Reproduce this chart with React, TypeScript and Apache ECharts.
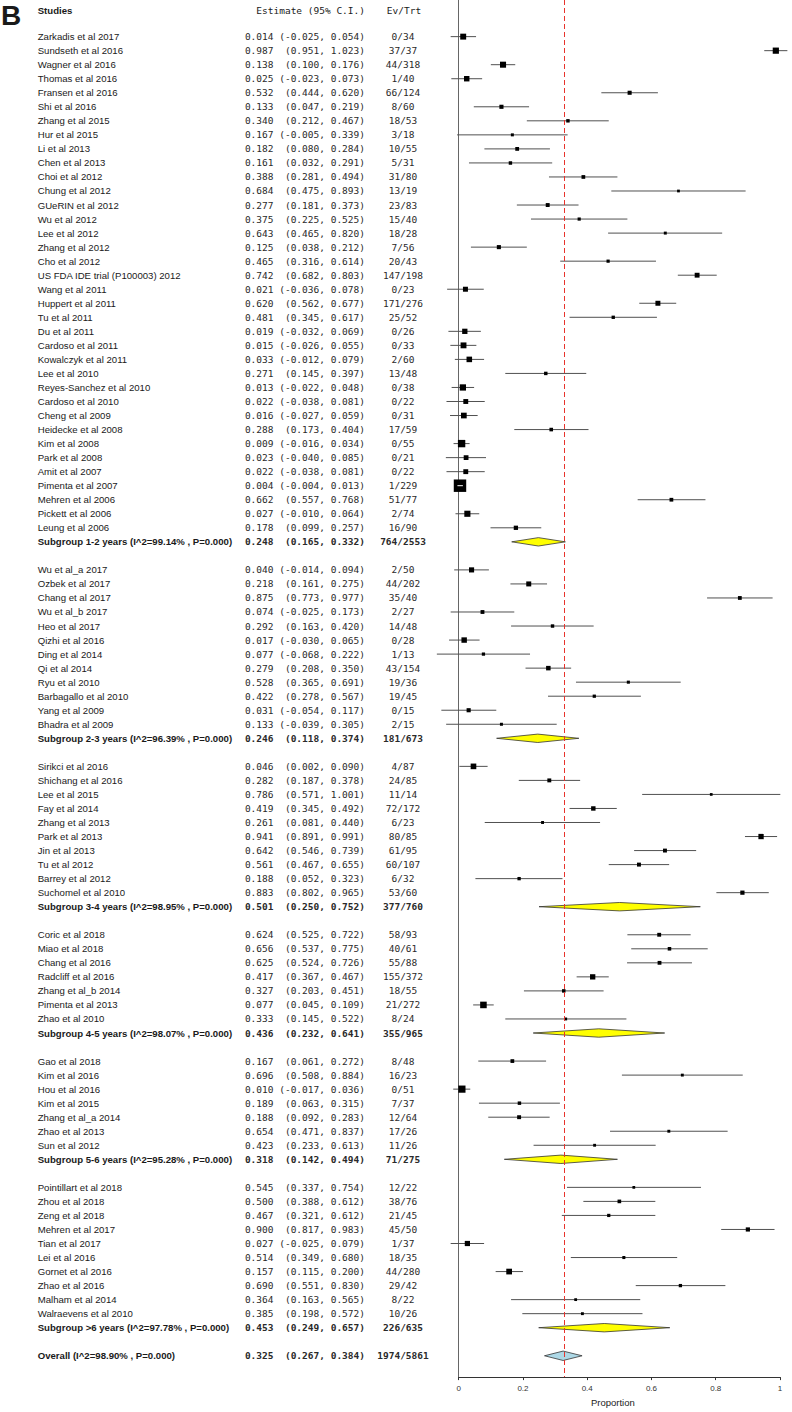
import React, { useEffect, useRef } from "react";
import * as echarts from "echarts";

type Study = [string, number, number, number, string];

// [name, estimate, lower, upper, events/total]
const group1: Study[] = [
  ["Zarkadis et al 2017", 0.014, -0.025, 0.054, "0/34"],
  ["Sundseth et al 2016", 0.987, 0.951, 1.023, "37/37"],
  ["Wagner et al 2016", 0.138, 0.1, 0.176, "44/318"],
  ["Thomas et al 2016", 0.025, -0.023, 0.073, "1/40"],
  ["Fransen et al 2016", 0.532, 0.444, 0.62, "66/124"],
  ["Shi et al 2016", 0.133, 0.047, 0.219, "8/60"],
  ["Zhang et al 2015", 0.34, 0.212, 0.467, "18/53"],
  ["Hur et al 2015", 0.167, -0.005, 0.339, "3/18"],
  ["Li et al 2013", 0.182, 0.08, 0.284, "10/55"],
  ["Chen et al 2013", 0.161, 0.032, 0.291, "5/31"],
  ["Choi et al 2012", 0.388, 0.281, 0.494, "31/80"],
  ["Chung et al 2012", 0.684, 0.475, 0.893, "13/19"],
  ["GUeRIN et al 2012", 0.277, 0.181, 0.373, "23/83"],
  ["Wu et al 2012", 0.375, 0.225, 0.525, "15/40"],
  ["Lee et al 2012", 0.643, 0.465, 0.82, "18/28"],
  ["Zhang et al 2012", 0.125, 0.038, 0.212, "7/56"],
  ["Cho et al 2012", 0.465, 0.316, 0.614, "20/43"],
  ["US FDA IDE trial (P100003) 2012", 0.742, 0.682, 0.803, "147/198"],
  ["Wang et al 2011", 0.021, -0.036, 0.078, "0/23"],
  ["Huppert et al 2011", 0.62, 0.562, 0.677, "171/276"],
  ["Tu et al 2011", 0.481, 0.345, 0.617, "25/52"],
  ["Du et al 2011", 0.019, -0.032, 0.069, "0/26"],
  ["Cardoso et al 2011", 0.015, -0.026, 0.055, "0/33"],
  ["Kowalczyk et al 2011", 0.033, -0.012, 0.079, "2/60"],
  ["Lee et al 2010", 0.271, 0.145, 0.397, "13/48"],
  ["Reyes-Sanchez et al 2010", 0.013, -0.022, 0.048, "0/38"],
  ["Cardoso et al 2010", 0.022, -0.038, 0.081, "0/22"],
  ["Cheng et al 2009", 0.016, -0.027, 0.059, "0/31"],
  ["Heidecke et al 2008", 0.288, 0.173, 0.404, "17/59"],
  ["Kim et al 2008", 0.009, -0.016, 0.034, "0/55"],
  ["Park et al 2008", 0.023, -0.04, 0.085, "0/21"],
  ["Amit et al 2007", 0.022, -0.038, 0.081, "0/22"],
  ["Pimenta et al 2007", 0.004, -0.004, 0.013, "1/229"],
  ["Mehren et al 2006", 0.662, 0.557, 0.768, "51/77"],
  ["Pickett et al 2006", 0.027, -0.01, 0.064, "2/74"],
  ["Leung et al 2006", 0.178, 0.099, 0.257, "16/90"],
];

const group2: Study[] = [
  ["Wu et al_a 2017", 0.04, -0.014, 0.094, "2/50"],
  ["Ozbek et al 2017", 0.218, 0.161, 0.275, "44/202"],
  ["Chang et al 2017", 0.875, 0.773, 0.977, "35/40"],
  ["Wu et al_b 2017", 0.074, -0.025, 0.173, "2/27"],
  ["Heo et al 2017", 0.292, 0.163, 0.42, "14/48"],
  ["Qizhi et al 2016", 0.017, -0.03, 0.065, "0/28"],
  ["Ding et al 2014", 0.077, -0.068, 0.222, "1/13"],
  ["Qi et al 2014", 0.279, 0.208, 0.35, "43/154"],
  ["Ryu et al 2010", 0.528, 0.365, 0.691, "19/36"],
  ["Barbagallo et al 2010", 0.422, 0.278, 0.567, "19/45"],
  ["Yang et al 2009", 0.031, -0.054, 0.117, "0/15"],
  ["Bhadra et al 2009", 0.133, -0.039, 0.305, "2/15"],
];

const group3: Study[] = [
  ["Sirikci et al 2016", 0.046, 0.002, 0.09, "4/87"],
  ["Shichang et al 2016", 0.282, 0.187, 0.378, "24/85"],
  ["Lee et al 2015", 0.786, 0.571, 1.001, "11/14"],
  ["Fay et al 2014", 0.419, 0.345, 0.492, "72/172"],
  ["Zhang et al 2013", 0.261, 0.081, 0.44, "6/23"],
  ["Park et al 2013", 0.941, 0.891, 0.991, "80/85"],
  ["Jin et al 2013", 0.642, 0.546, 0.739, "61/95"],
  ["Tu et al 2012", 0.561, 0.467, 0.655, "60/107"],
  ["Barrey et al 2012", 0.188, 0.052, 0.323, "6/32"],
  ["Suchomel et al 2010", 0.883, 0.802, 0.965, "53/60"],
];

const group4: Study[] = [
  ["Coric et al 2018", 0.624, 0.525, 0.722, "58/93"],
  ["Miao et al 2018", 0.656, 0.537, 0.775, "40/61"],
  ["Chang et al 2016", 0.625, 0.524, 0.726, "55/88"],
  ["Radcliff et al 2016", 0.417, 0.367, 0.467, "155/372"],
  ["Zhang et al_b 2014", 0.327, 0.203, 0.451, "18/55"],
  ["Pimenta et al 2013", 0.077, 0.045, 0.109, "21/272"],
  ["Zhao et al 2010", 0.333, 0.145, 0.522, "8/24"],
];

const group5: Study[] = [
  ["Gao et al 2018", 0.167, 0.061, 0.272, "8/48"],
  ["Kim et al 2016", 0.696, 0.508, 0.884, "16/23"],
  ["Hou et al 2016", 0.01, -0.017, 0.036, "0/51"],
  ["Kim et al 2015", 0.189, 0.063, 0.315, "7/37"],
  ["Zhang et al_a 2014", 0.188, 0.092, 0.283, "12/64"],
  ["Zhao et al 2013", 0.654, 0.471, 0.837, "17/26"],
  ["Sun et al 2012", 0.423, 0.233, 0.613, "11/26"],
];

const group6: Study[] = [
  ["Pointillart et al 2018", 0.545, 0.337, 0.754, "12/22"],
  ["Zhou et al 2018", 0.5, 0.388, 0.612, "38/76"],
  ["Zeng et al 2018", 0.467, 0.321, 0.612, "21/45"],
  ["Mehren et al 2017", 0.9, 0.817, 0.983, "45/50"],
  ["Tian et al 2017", 0.027, -0.025, 0.079, "1/37"],
  ["Lei et al 2016", 0.514, 0.349, 0.68, "18/35"],
  ["Gornet et al 2016", 0.157, 0.115, 0.2, "44/280"],
  ["Zhao et al 2016", 0.69, 0.551, 0.83, "29/42"],
  ["Malham et al 2014", 0.364, 0.163, 0.565, "8/22"],
  ["Walraevens et al 2010", 0.385, 0.198, 0.572, "10/26"],
];

const subgroupLabels = [
  "Subgroup 1-2 years (I^2=99.14% , P=0.000)",
  "Subgroup 2-3 years (I^2=96.39% , P=0.000)",
  "Subgroup 3-4 years (I^2=98.95% , P=0.000)",
  "Subgroup 4-5 years (I^2=98.07% , P=0.000)",
  "Subgroup 5-6 years (I^2=95.28% , P=0.000)",
  "Subgroup >6 years (I^2=97.78% , P=0.000)",
];
const subgroupEst = [0.248, 0.246, 0.501, 0.436, 0.318, 0.453];
const subgroupLo = [0.165, 0.118, 0.25, 0.232, 0.142, 0.249];
const subgroupHi = [0.332, 0.374, 0.752, 0.641, 0.494, 0.657];
const subgroupEvTrt = ["764/2553", "181/673", "377/760", "355/965", "71/275", "226/635"];

const overallLabel = "Overall (I^2=98.90% , P=0.000)";
const overallEst = 0.325;
const overallLo = 0.267;
const overallHi = 0.384;
const overallEvTrt = "1974/5861";

const xTicks = [0, 0.2, 0.4, 0.6, 0.8, 1];

type Row = {
  row: number;
  kind: "study" | "sub" | "overall";
  name: string;
  est: number;
  lo: number;
  hi: number;
  ev: string;
};

function buildRows(): Row[] {
  const groups = [group1, group2, group3, group4, group5, group6];
  const rows: Row[] = [];
  let r = 0;
  groups.forEach((g, gi) => {
    g.forEach((s) => {
      rows.push({ row: r++, kind: "study", name: s[0], est: s[1], lo: s[2], hi: s[3], ev: s[4] });
    });
    rows.push({
      row: r++,
      kind: "sub",
      name: subgroupLabels[gi],
      est: subgroupEst[gi],
      lo: subgroupLo[gi],
      hi: subgroupHi[gi],
      ev: subgroupEvTrt[gi],
    });
    r++; // blank row
  });
  rows.push({ row: r, kind: "overall", name: overallLabel, est: overallEst, lo: overallLo, hi: overallHi, ev: overallEvTrt });
  return rows;
}

const fmt = (v: number) => v.toFixed(3);
const ciText = (e: number, l: number, h: number) =>
  fmt(e) + (l < 0 ? " " : "  ") + "(" + fmt(l) + ", " + fmt(h) + ")";

const SANS = '"Liberation Sans", Arial, sans-serif';
const MONO = '"DejaVu Sans Mono", "Liberation Mono", monospace';
const FS = 9.6;
const FSM = 9.5;

export default function App() {
  const ref = useRef<HTMLDivElement>(null);
  useEffect(() => {
    if (!ref.current) return;
    const chart = echarts.init(ref.current, undefined, { renderer: "svg" });
    const rows = buildRows();
    const nameX = 37.7;
    const estRightX = 365;
    const evCenterX = 403;

    const textEl = (x: number, y: number, text: string, family: string, size: number, bold: boolean, align: string, color: string) => ({
      type: "text",
      x,
      y,
      silent: true,
      style: {
        text,
        fill: color,
        fontSize: size,
        fontFamily: family,
        fontWeight: bold ? "bold" : "normal",
        align,
        textAlign: align,
        verticalAlign: "middle",
        textVerticalAlign: "middle",
      },
    });

    const renderItem = (params: any, api: any) => {
      const r = rows[params.dataIndex];
      const [xe, y] = api.coord([r.est, r.row]);
      const [xl] = api.coord([r.lo, r.row]);
      const [xh] = api.coord([r.hi, r.row]);
      const bold = r.kind !== "study";
      const children: any[] = [
        textEl(nameX, y, r.name, SANS, FS, bold, "left", "#1a1a1a"),
        textEl(estRightX, y, ciText(r.est, r.lo, r.hi), MONO, FSM, bold, "right", "#2a2a2a"),
        textEl(evCenterX, y, r.ev, MONO, FSM, bold, "center", "#2a2a2a"),
      ];
      if (r.kind === "study") {
        const se = (r.hi - r.lo) / 3.92;
        const size = 0.3 + 0.8 / Math.sqrt(se);
        children.push({
          type: "line",
          shape: { x1: xl, y1: y, x2: xh, y2: y },
          style: { stroke: "#505050", lineWidth: 1 },
        });
        children.push({
          type: "rect",
          shape: { x: xe - size / 2, y: y - size / 2, width: size, height: size },
          style: { fill: "#000" },
        });
        if (xh - xl < size) {
          children.push({
            type: "line",
            shape: { x1: xl, y1: y, x2: xh, y2: y },
            style: { stroke: "#fff", lineWidth: 1 },
          });
        }
      } else {
        const h = r.kind === "overall" ? 4.7 : 4.2;
        children.push({
          type: "polygon",
          shape: { points: [[xl, y], [xe, y - h], [xh, y], [xe, y + h]] },
          style: { fill: r.kind === "overall" ? "#add8e6" : "#ffff00", stroke: "#333", lineWidth: 0.8 },
        });
      }
      return { type: "group", children };
    };

    const headerStyle = (text: string, family: string, size: number, bold: boolean, align: string) => ({
      text,
      fontSize: size,
      fontWeight: bold ? "bold" : "normal",
      fontFamily: family,
      fill: "#1a1a1a",
      align,
      textAlign: align,
      verticalAlign: "middle",
      textVerticalAlign: "middle",
    });

    chart.setOption({
      animation: false,
      grid: { left: 458.7, right: 12, top: 0, bottom: 33.3, containLabel: false },
      xAxis: {
        type: "value",
        min: xTicks[0],
        max: xTicks[xTicks.length - 1],
        interval: 0.2,
        axisLine: { show: true, onZero: false, lineStyle: { color: "#333", width: 1 } },
        axisTick: { show: true, length: 3, lineStyle: { color: "#333" } },
        axisLabel: {
          fontSize: 8,
          color: "#333",
          fontFamily: SANS,
          margin: 7,
          formatter: (v: number) => String(+v.toFixed(1)),
        },
        splitLine: { show: false },
        name: "Proportion",
        nameLocation: "middle",
        nameGap: 15,
        nameTextStyle: { fontSize: 9.5, color: "#222", fontFamily: SANS, padding: [0, 13, 0, 0] },
      },
      yAxis: {
        type: "value",
        inverse: true,
        min: -2.61,
        max: 95.52,
        axisLine: { show: true, onZero: false, lineStyle: { color: "#666", width: 1 } },
        axisTick: { show: false },
        axisLabel: { show: false },
        splitLine: { show: false },
      },
      graphic: [
        { type: "text", x: 1, y: 15, style: headerStyle("B", SANS, 28, true, "left") },
        { type: "text", x: 37.7, y: 10, style: headerStyle("Studies", SANS, FS, true, "left") },
        { type: "text", x: 365, y: 10, style: headerStyle("Estimate (95% C.I.)", MONO, FSM, false, "right") },
        { type: "text", x: 404, y: 10, style: headerStyle("Ev/Trt", MONO, FSM, false, "center") },
      ],
      series: [
        {
          type: "custom",
          clip: false,
          renderItem,
          encode: { x: [1, 2, 3], y: 0 },
          data: rows.map((r) => [r.row, r.est, r.lo, r.hi]),
          markLine: {
            silent: true,
            symbol: ["none", "none"],
            label: { show: false },
            lineStyle: { color: "#e8332c", type: [5, 3], width: 1 },
            data: [{ xAxis: overallEst }],
          },
        },
      ],
    });
    return () => chart.dispose();
  }, []);
  return <div ref={ref} style={{ position: "absolute", left: 0, top: 0, width: 792, height: 1412 }} />;
}
